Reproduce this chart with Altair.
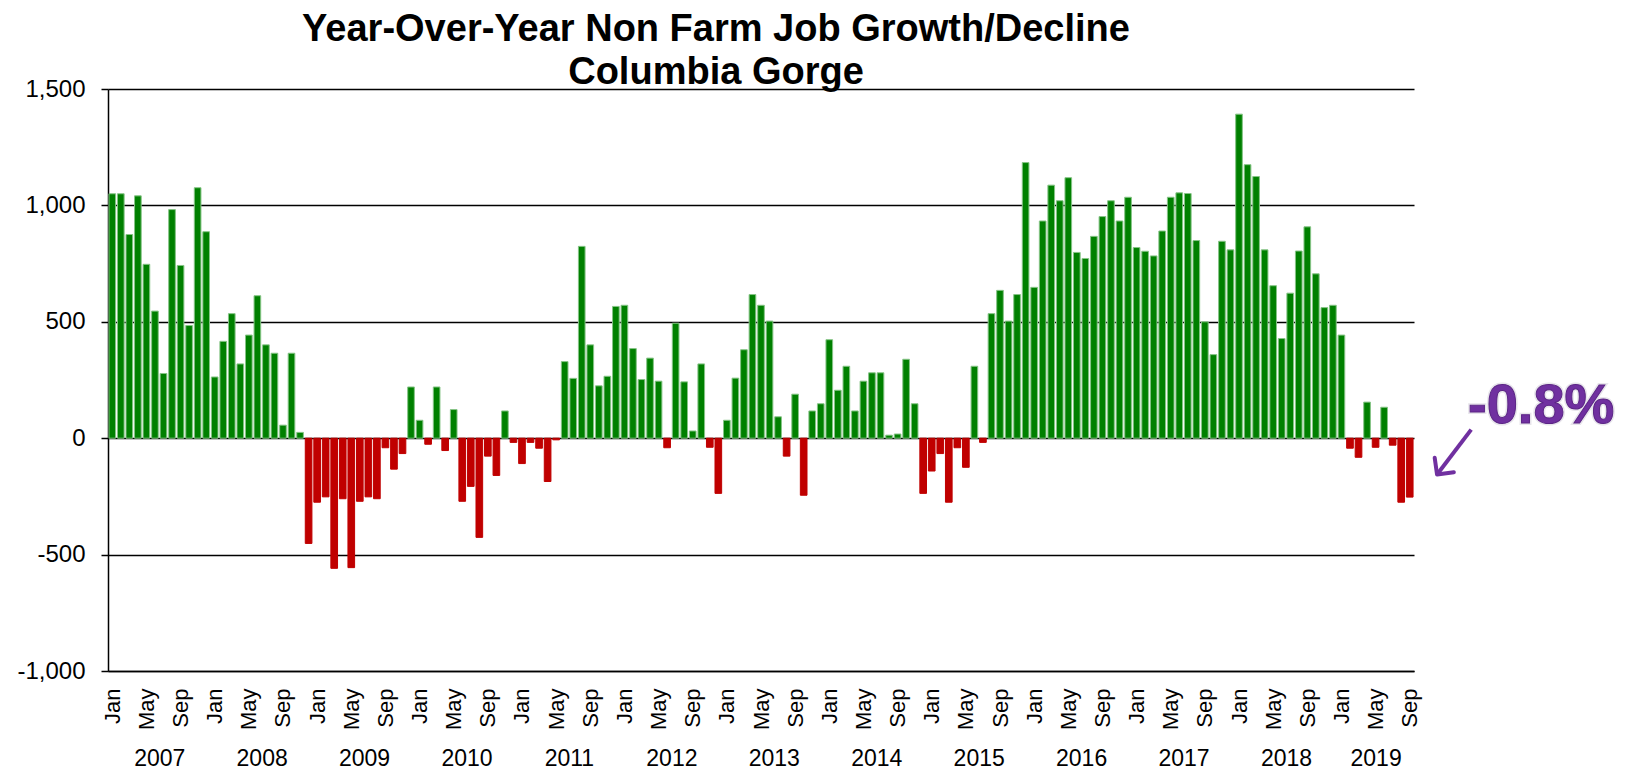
import altair as alt
import pandas as pd

MONTHS = ["Jan", "Feb", "Mar", "Apr", "May", "Jun", "Jul", "Aug", "Sep", "Oct", "Nov", "Dec"]
FIRST_YEAR = 2007
TICK_MONTHS = ["Jan", "May", "Sep"]
TITLE_LINES = ["Year-Over-Year Non Farm Job Growth/Decline", "Columbia Gorge"]
Y_TICKS = [-1000, -500, 0, 500, 1000, 1500]

jobs_2007 = [1050, 1050, 875, 1041, 747, 546, 278, 982, 742, 484, 1076, 887]
jobs_2008 = [263, 416, 535, 319, 443, 612, 401, 365, 56, 365, 25, -452]
jobs_2009 = [-275, -252, -559, -260, -556, -271, -252, -260, -41, -133, -66, 220]
jobs_2010 = [77, -26, 220, -53, 123, -271, -207, -426, -77, -160, 117, -18]
jobs_2011 = [-109, -18, -43, -186, -7, 329, 257, 824, 401, 225, 266, 566]
jobs_2012 = [571, 385, 252, 344, 245, -41, 494, 242, 31, 319, -39, -237]
jobs_2013 = [77, 258, 380, 617, 571, 503, 92, -77, 189, -245, 117, 148]
jobs_2014 = [423, 206, 309, 117, 245, 281, 281, 13, 18, 339, 148, -237]
jobs_2015 = [-141, -66, -275, -41, -125, 309, -18, 535, 635, 503, 617, 1184]
jobs_2016 = [648, 933, 1087, 1020, 1119, 798, 772, 867, 952, 1020, 933, 1035]
jobs_2017 = [819, 803, 783, 890, 1035, 1054, 1051, 849, 500, 359, 846, 809]
jobs_2018 = [1392, 1175, 1124, 809, 655, 428, 623, 804, 908, 706, 561, 571]
jobs_2019 = [443, -43, -82, 155, -39, 133, -30, -275, -253]

ANNOTATION_TEXT = "-0.8%"
# annotation anchor in chart units (month index, jobs)
ANN_TEXT_AT = [167.4, 140]
ANN_ARROW_FROM = [159.2, 37]
ANN_ARROW_TO = [155.2, -156]

values = (jobs_2007 + jobs_2008 + jobs_2009 + jobs_2010 + jobs_2011 + jobs_2012 + jobs_2013
          + jobs_2014 + jobs_2015 + jobs_2016 + jobs_2017 + jobs_2018 + jobs_2019)
n = len(values)

df = pd.DataFrame({"idx": list(range(n)), "value": values})
df["year"] = FIRST_YEAR + df["idx"] // 12
df["dir"] = ["growth" if v >= 0 else "decline" for v in values]

year_df = df.groupby("year", as_index=False)["idx"].mean().rename(columns={"idx": "center"})
year_centers = [float(c) for c in year_df["center"]]

tick_vals = [i for i in range(n) if MONTHS[i % 12] in TICK_MONTHS]
month_expr = "[" + ",".join(f"'{m}'" for m in MONTHS) + "][datum.value % 12]"
year_expr = f"'' + (floor(datum.value / 12) + {FIRST_YEAR})"

FONT = "Liberation Sans"
GREEN = "#008000"
GREEN_EDGE = "#86c486"
RED = "#C00000"
PURPLE = "#7030A0"

xscale = alt.Scale(domain=[-0.5, n - 0.5], nice=False, zero=False)
yscale = alt.Scale(domain=[Y_TICKS[0], Y_TICKS[-1]], nice=False, zero=False)

month_axis = alt.Axis(
    orient="bottom", values=tick_vals, labelExpr=month_expr, labelAngle=270,
    labelFont=FONT, labelFontSize=22, labelColor="black", labelPadding=17,
    ticks=False, tickSize=0, domain=True, domainColor="black", domainWidth=1.5,
    grid=False, title=None, labelOverlap=False, labelFlush=False,
)
y_axis = alt.Axis(
    orient="left", values=Y_TICKS,
    labelExpr="(datum.value < 0 ? '-' : '') + format(abs(datum.value), ',')",
    labelFont=FONT, labelFontSize=24, labelColor="black", labelPadding=16,
    ticks=True, tickSize=7, tickColor="black", tickWidth=1.5,
    domain=True, domainColor="black", domainWidth=1.5,
    grid=True, gridColor="black", gridWidth=1.5, title=None,
)
year_axis = alt.Axis(
    orient="bottom", values=year_centers, labelExpr=year_expr, offset=76,
    labelFont=FONT, labelFontSize=23, labelColor="black", labelPadding=0,
    ticks=False, tickSize=0, domain=False, grid=False, title=None,
    labelOverlap=False, labelFlush=False,
)

bars = alt.Chart(df).transform_calculate(
    lo="datum.idx - 0.39", hi="datum.idx + 0.39"
).mark_bar(strokeWidth=1).encode(
    x=alt.X("lo:Q", scale=xscale, axis=month_axis),
    x2="hi",
    y=alt.Y("value:Q", scale=yscale, axis=y_axis),
    y2=alt.datum(0),
    color=alt.Color("dir:N", scale=alt.Scale(domain=["growth", "decline"], range=[GREEN, RED]), legend=None),
    stroke=alt.Stroke("dir:N", scale=alt.Scale(domain=["growth", "decline"], range=[GREEN_EDGE, RED]), legend=None),
)

years_layer = alt.Chart(year_df).mark_text(opacity=0).encode(
    x=alt.X("center:Q", scale=xscale, axis=year_axis),
    text="year:N",
)

arrow_df = pd.DataFrame({"x": [ANN_ARROW_FROM[0]], "y": [ANN_ARROW_FROM[1]],
                         "x2": [ANN_ARROW_TO[0]], "y2": [ANN_ARROW_TO[1]]})
arrow = alt.Chart(arrow_df).mark_rule(color=PURPLE, strokeWidth=4).encode(
    x=alt.X("x:Q", scale=xscale, axis=None),
    y=alt.Y("y:Q", scale=yscale, axis=y_axis),
    x2="x2", y2="y2",
)
head = alt.Chart(arrow_df).mark_point(
    shape="M -0.8 0.8 L 0 0 L 0.8 0.8", filled=False, strokeWidth=4,
    size=900, angle=217, color=PURPLE, opacity=1, strokeCap="round", strokeJoin="round",
).encode(
    x=alt.X("x2:Q", scale=xscale, axis=None),
    y=alt.Y("y2:Q", scale=yscale, axis=y_axis),
)

ann_df = pd.DataFrame({"x": [ANN_TEXT_AT[0]], "y": [ANN_TEXT_AT[1]], "label": [ANNOTATION_TEXT]})
glow = alt.Chart(ann_df).mark_text(
    font=FONT, fontSize=56, fontWeight="bold", color="#d2cdd8", stroke="#d8d4de",
    strokeWidth=4, opacity=0.6, baseline="middle", align="center",
).encode(
    x=alt.X("x:Q", scale=xscale, axis=None),
    y=alt.Y("y:Q", scale=yscale, axis=y_axis),
    text="label:N",
)
label = alt.Chart(ann_df).mark_text(
    font=FONT, fontSize=56, fontWeight="bold", color=PURPLE, stroke="#5b2585",
    strokeWidth=1, baseline="middle", align="center",
).encode(
    x=alt.X("x:Q", scale=xscale, axis=None),
    y=alt.Y("y:Q", scale=yscale, axis=y_axis),
    text="label:N",
)

chart = alt.layer(bars, years_layer, arrow, head, glow, label).resolve_axis(
    x="independent"
).properties(
    width=1306,
    height=582,
    title=alt.TitleParams(
        text=TITLE_LINES, font=FONT, fontSize=38, fontWeight="bold", color="black",
        lineHeight=43, anchor="middle", dx=-45, offset=-53, baseline="bottom",
    ),
    autosize=alt.AutoSizeParams(type="none"),
    padding={"left": 100, "top": 81, "right": 205, "bottom": 99},
).configure_view(strokeWidth=0)

chart.save("out.html", embed_options={"renderer": "svg", "actions": False})
